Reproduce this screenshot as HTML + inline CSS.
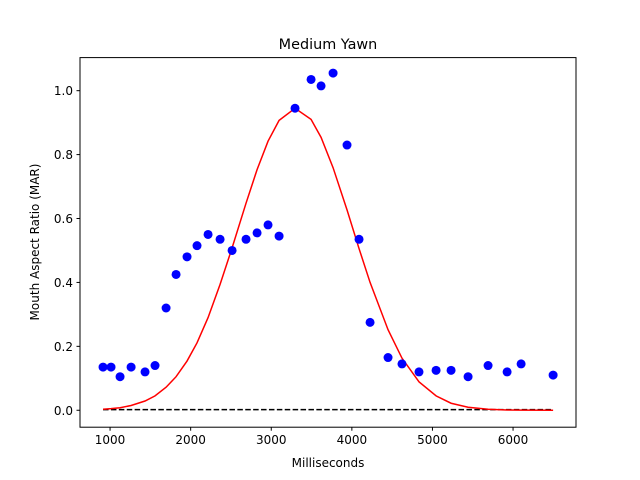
<!DOCTYPE html>
<html><head><meta charset="utf-8"><style>
body{margin:0;background:#fff;}
svg{display:block;font-family:"DejaVu Sans","Liberation Sans",sans-serif;}
</style></head><body>
<svg id="chart" width="640" height="480" viewBox="0 0 640 480">
<rect width="640" height="480" fill="#fff"/>
<text x="328" y="49" text-anchor="middle" font-size="14.4">Medium Yawn</text>
<text x="328" y="467" text-anchor="middle" font-size="12">Milliseconds</text>
<text transform="translate(39,242) rotate(-90)" text-anchor="middle" font-size="12">Mouth Aspect Ratio (MAR)</text>
<g id="plot"></g>
<rect x="80" y="57.6" width="496" height="369.6" fill="none" stroke="#000" stroke-width="1"/>
</svg>
<script>
const times=[913,1012,1124,1261,1434,1558,1695,1819,1955,2079,2216,2365,2514,2687,2824,2960,3097,3295,3494,3618,3767,3940,4089,4226,4449,4622,4833,5045,5231,5442,5690,5926,6100,6497];
const marValues=[0.135,0.135,0.105,0.135,0.12,0.14,0.32,0.425,0.48,0.515,0.55,0.535,0.50,0.535,0.555,0.58,0.545,0.945,1.035,1.015,1.055,0.83,0.535,0.275,0.165,0.145,0.12,0.125,0.125,0.105,0.14,0.12,0.145,0.11];
const fitValues=[0.003,0.005,0.008,0.015,0.029,0.045,0.072,0.105,0.154,0.211,0.290,0.394,0.508,0.648,0.753,0.842,0.907,0.945,0.910,0.854,0.759,0.627,0.506,0.400,0.252,0.163,0.089,0.045,0.022,0.0095,0.003,0.001,0.0004,0.0];
const baselineValues=[0.002,0.002,0.002,0.002,0.002,0.002,0.002,0.002,0.002,0.002,0.002,0.002,0.002,0.002,0.002,0.002,0.002,0.002,0.002,0.002,0.002,0.002,0.002,0.002,0.002,0.002,0.002,0.002,0.002,0.002,0.002,0.002,0.002,0.002];
const xTicks=[1000,2000,3000,4000,5000,6000];
const yTicks=[0.0,0.2,0.4,0.6,0.8,1.0];
const yTickLabels=["0.0","0.2","0.4","0.6","0.8","1.0"];

const NS="http://www.w3.org/2000/svg";
const L=80,R=576,T=57.6,B=427.2;
const xMin=627,xMax=6781,yMin=-0.053,yMax=1.1035;
const xs=v=>L+(v-xMin)/(xMax-xMin)*(R-L);
const ys=v=>B-(v-yMin)/(yMax-yMin)*(B-T);
const g=document.getElementById('plot');
function mk(tag,attrs){const e=document.createElementNS(NS,tag);for(const k in attrs)e.setAttribute(k,attrs[k]);g.appendChild(e);return e;}

xTicks.forEach(t=>{
  const l=mk('line',{x1:xs(t),x2:xs(t),y1:B,y2:B+3.5,stroke:'#000'});
  
  
  const tx=mk('text',{x:xs(t),y:B+17,'text-anchor':'middle','font-size':'12'});
  tx.textContent=String(t);
  
  
});
yTicks.forEach((t,i)=>{
  const l=mk('line',{x1:L-3.5,x2:L,y1:ys(t),y2:ys(t),stroke:'#000'});
  
  
  const tx=mk('text',{x:L-7,y:ys(t)+4.5,'text-anchor':'end','font-size':'12'});
  tx.textContent=yTickLabels[i];
  
  
});

const base=mk('polyline',{points:times.map((t,i)=>xs(t)+','+ys(baselineValues[i])).join(' '),fill:'none',stroke:'#000','stroke-width':1.5,'stroke-dasharray':'5.5,2.4'});



const fit=mk('polyline',{points:times.map((t,i)=>xs(t)+','+ys(fitValues[i])).join(' '),fill:'none',stroke:'#ff0000','stroke-width':1.5});



times.forEach((t,i)=>{
  const c=mk('circle',{cx:xs(t),cy:ys(marValues[i]),r:4.5,fill:'#0000ff'});
  
  
});
</script>
</body></html>
